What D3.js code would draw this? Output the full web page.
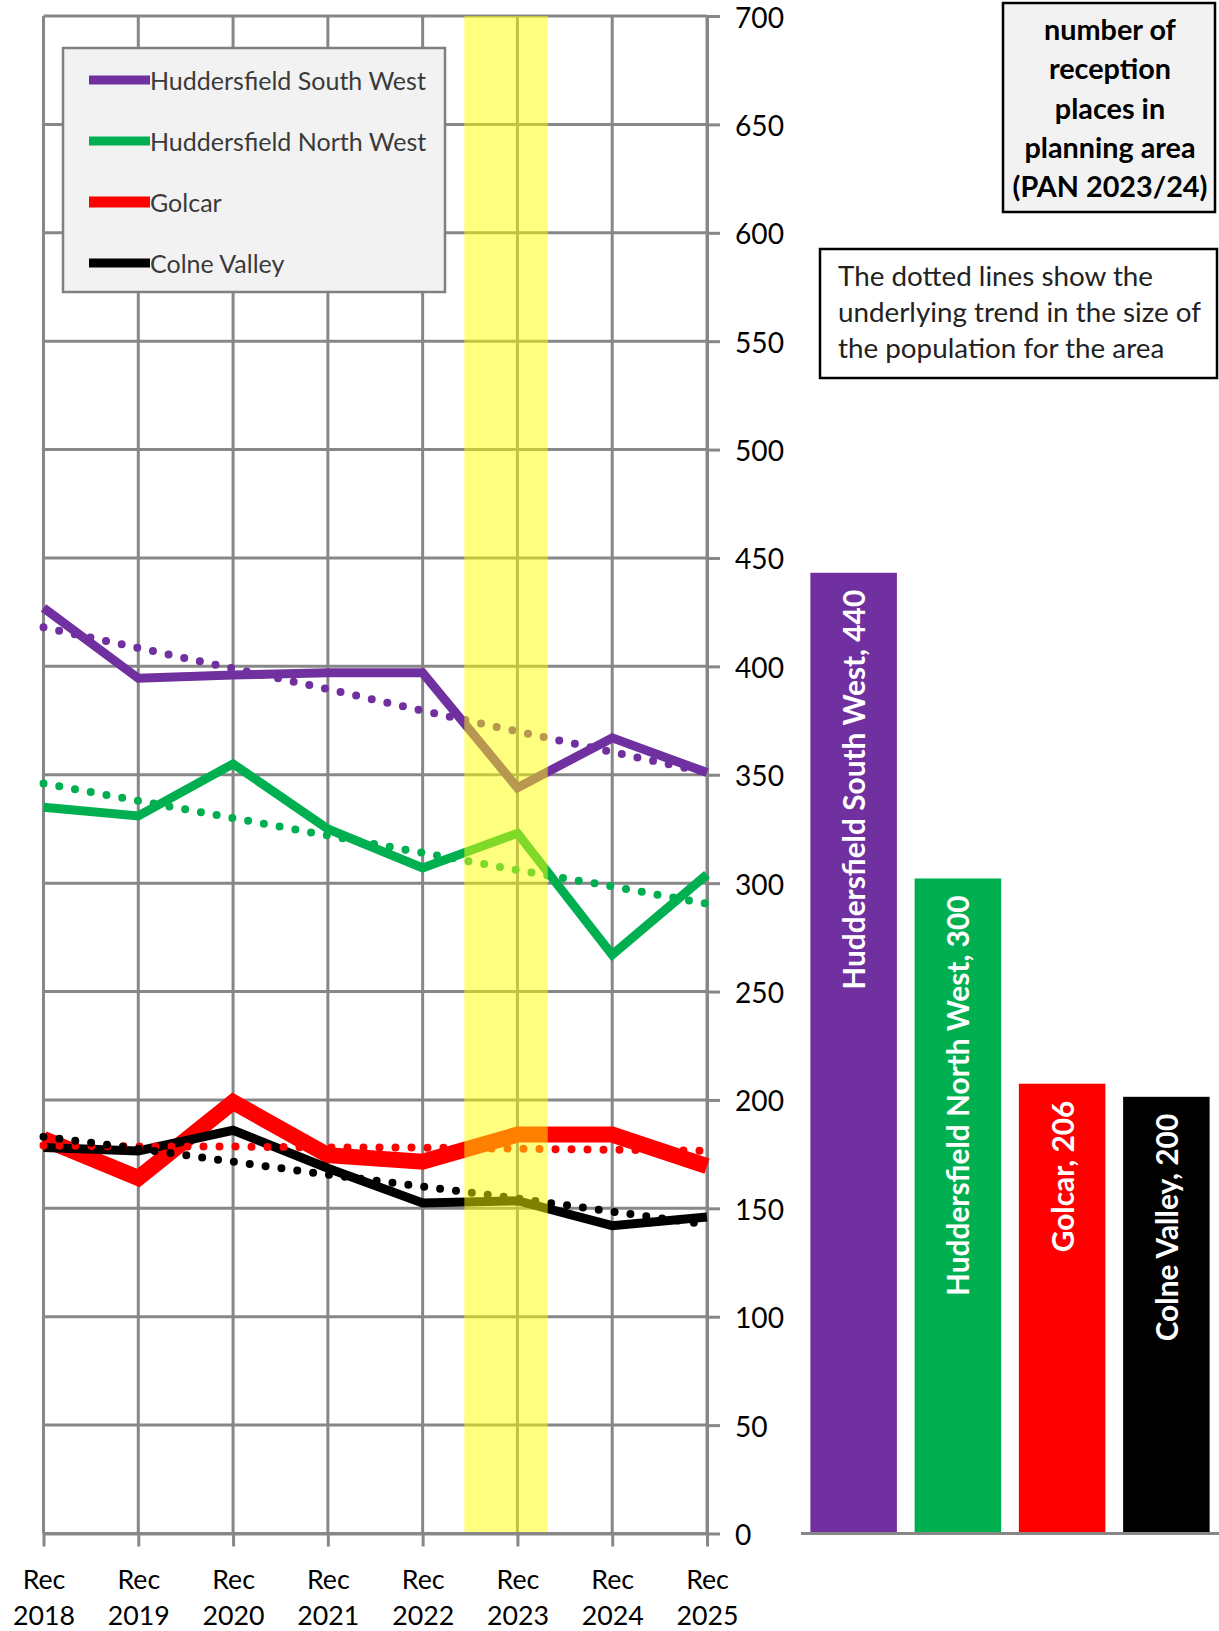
<!DOCTYPE html>
<html><head><meta charset="utf-8">
<script src="https://cdn.jsdelivr.net/npm/d3@7"></script>
<style>html,body{margin:0;padding:0;background:#fff;} svg{display:block;font-family:Lato,"Open Sans",sans-serif;}</style>
</head><body>
<svg id="chart" width="1219" height="1631"></svg>
<script>
// ---------- data ----------
const categories = ["Rec 2018","Rec 2019","Rec 2020","Rec 2021","Rec 2022","Rec 2023","Rec 2024","Rec 2025"];
const areas = ["Huddersfield South West","Huddersfield North West","Golcar","Colne Valley"];
const areaColors = ["#7030A0","#00B050","#FF0000","#000000"];
const hswValues    = [427, 394.5, 396, 397, 397, 344, 367, 351];
const hnwValues    = [335, 331, 355, 325, 307, 323, 267, 304];
const golcarValues = [182, 164, 199, 174.5, 171.5, 184, 184, 169.5];
const colneValues  = [178, 176.5, 186, 168.5, 152.5, 153.5, 142, 146];
const hswTrend     = [418, 408.5, 399, 389.5, 379.5, 370, 360.5, 351];
const hnwTrend     = [346, 338, 330, 322, 314, 306, 298.5, 290.5];
const golcarTrend  = [179, 178.5, 178.5, 178, 178, 177.5, 177, 176.5];
const colneTrend   = [183, 177.5, 171.5, 165.5, 160, 154.5, 148.5, 142.5];
const panPlaces    = [440, 300, 206, 200];
const yTickValues  = [0,50,100,150,200,250,300,350,400,450,500,550,600,650,700];
const panBoxLines  = ["number of","reception","places in","planning area","(PAN 2023/24)"];
const noteLines    = ["The dotted lines show the","underlying trend in the size of","the population for the area"];
const highlightFrom = 4.44, highlightTo = 5.32; // category-index units of the yellow band

// ---------- layout ----------
const svg = d3.select("#chart");
const L = 43.5, R = 707, T = 16, B = 1533.5;
const grid = "#878787";

function fitSize(sample, width, weight){
  const t = svg.append("text").attr("font-size",100).attr("font-weight",weight).text(sample);
  const w = t.node().getComputedTextLength(); t.remove();
  return 100*width/w;
}
const legendFS = fitSize("Huddersfield South West", 276, "normal");
const yTickFS  = fitSize("700", 49, "normal");
const xTickFS  = fitSize("2018", 62, "normal");
const panFS    = fitSize("(PAN 2023/24)", 195, "bold");
const noteFS   = fitSize("underlying trend in the size of", 363, "normal");
const barFS    = fitSize("Huddersfield South West, 440", 400, "bold");

const x  = d3.scalePoint().domain(categories).range([L, R]);
const xi = d3.scaleLinear().domain([0, categories.length-1]).range([L, R]);
const y  = d3.scaleLinear().domain([0, 700]).range([B, T]);

// gridlines
const g = svg.append("g");
g.selectAll(".hg").data(yTickValues).join("line")
  .attr("x1", L).attr("x2", R).attr("y1", d=>y(d)).attr("y2", d=>y(d))
  .attr("stroke", grid).attr("stroke-width", 3);
g.selectAll(".vg").data(categories).join("line")
  .attr("x1", d=>x(d)).attr("x2", d=>x(d)).attr("y1", T).attr("y2", B)
  .attr("stroke", grid).attr("stroke-width", 3);

// axes
const yAxis = svg.append("g").attr("transform", `translate(${R},0)`)
  .call(d3.axisRight(y).tickValues(yTickValues).tickSize(13).tickSizeOuter(0).tickPadding(15));
const xAxis = svg.append("g").attr("transform", `translate(0,${B})`)
  .call(d3.axisBottom(x).tickSize(13).tickSizeOuter(0));
[yAxis, xAxis].forEach(a=>{
  a.select(".domain").attr("stroke", grid).attr("stroke-width", 3);
  a.selectAll(".tick line").attr("stroke", grid).attr("stroke-width", 3);
});
yAxis.selectAll(".tick text").attr("font-family","Lato").attr("font-size", yTickFS)
  .attr("fill","#000").attr("dy", null).attr("dominant-baseline","central");
xAxis.selectAll(".tick text").remove();
xAxis.selectAll(".tick").each(function(d){
  const parts = d.split(" ");
  const t = d3.select(this);
  t.append("text").attr("y", 45.5).attr("dominant-baseline","central").attr("text-anchor","middle")
    .attr("font-family","Lato").attr("font-size", xTickFS).attr("fill","#000").text(parts[0]);
  t.append("text").attr("y", 81.5).attr("dominant-baseline","central").attr("text-anchor","middle")
    .attr("font-family","Lato").attr("font-size", xTickFS).attr("fill","#000").text(parts[1]);
});

// series
const seriesValues = [hswValues, hnwValues, golcarValues, colneValues];
const trendValues  = [hswTrend, hnwTrend, golcarTrend, colneTrend];
const seriesWidth  = [9, 9, 16, 9];
const line = d3.line().x((d,i)=>x(categories[i])).y(d=>y(d));
const lines = svg.append("g");
seriesValues.forEach((vals, k)=>{
  lines.append("path").attr("d", line(vals)).attr("fill","none")
    .attr("stroke", areaColors[k]).attr("stroke-width", seriesWidth[k])
    .attr("stroke-linejoin","miter").attr("stroke-linecap","butt");
});
trendValues.forEach((vals, k)=>{
  lines.append("path").attr("d", line(vals)).attr("fill","none")
    .attr("stroke", areaColors[k]).attr("stroke-width", 8)
    .attr("stroke-dasharray","0 16").attr("stroke-linecap","round");
});

// yellow highlight band
svg.append("rect").attr("x", xi(highlightFrom)).attr("width", xi(highlightTo)-xi(highlightFrom))
  .attr("y", T).attr("height", B - 1.5 - T).attr("fill","#FFFF00").attr("opacity",0.5);

// legend
const lg = svg.append("g");
lg.append("rect").attr("x", 63).attr("y", 48).attr("width", 382).attr("height", 244)
  .attr("fill","#F2F2F2").attr("stroke","#808080").attr("stroke-width",2.5);
const legendY = d3.scalePoint().domain(areas).range([80, 263]);
const legendW = [9, 9, 11, 9];
areas.forEach((a,k)=>{
  lg.append("line").attr("x1", 89).attr("x2", 150).attr("y1", legendY(a)).attr("y2", legendY(a))
    .attr("stroke", areaColors[k]).attr("stroke-width", legendW[k]);
  lg.append("text").attr("x", 150).attr("y", legendY(a)).attr("dominant-baseline","central")
    .attr("font-size", legendFS).attr("fill","#3a3a3a").text(a);
});

// PAN label box
svg.append("rect").attr("x", 1003).attr("y", 3).attr("width", 212).attr("height", 209)
  .attr("fill","#F2F2F2").attr("stroke","#000").attr("stroke-width",2.5);
const panY = d3.scalePoint().domain(d3.range(panBoxLines.length)).range([29, 186]);
panBoxLines.forEach((s,i)=>{
  svg.append("text").attr("x", 1110).attr("y", panY(i)).attr("text-anchor","middle")
    .attr("dominant-baseline","central").attr("font-weight","bold").attr("font-size", panFS)
    .attr("fill","#000").text(s);
});

// note box
svg.append("rect").attr("x", 820).attr("y", 249).attr("width", 397).attr("height", 129)
  .attr("fill","#fff").attr("stroke","#000").attr("stroke-width",2.5);
const noteY = d3.scalePoint().domain(d3.range(noteLines.length)).range([275.5, 347.5]);
noteLines.forEach((s,i)=>{
  svg.append("text").attr("x", 838).attr("y", noteY(i)).attr("dominant-baseline","central")
    .attr("font-size", noteFS).attr("fill","#222").text(s);
});

// bar chart of PAN places
const xb = d3.scaleBand().domain(areas).range([801, 1219]).paddingInner(0.17).paddingOuter(0.09);
const yb = d3.scaleLinear().domain([0, 695]).range([B, T]);
const bars = svg.append("g");
areas.forEach((a,k)=>{
  bars.append("rect").attr("x", xb(a)).attr("width", xb.bandwidth())
    .attr("y", yb(panPlaces[k])).attr("height", B - yb(panPlaces[k])).attr("fill", areaColors[k]);
  const cx = xb(a) + xb.bandwidth()/2, cy = yb(panPlaces[k]) + 17;
  bars.append("text").attr("transform", `translate(${cx},${cy}) rotate(-90)`)
    .attr("text-anchor","end").attr("dominant-baseline","central")
    .attr("font-weight","bold").attr("font-size", barFS).attr("fill","#fff")
    .text(`${a}, ${panPlaces[k]}`);
});
bars.append("line").attr("x1", 801).attr("x2", 1219).attr("y1", B).attr("y2", B)
  .attr("stroke", grid).attr("stroke-width", 3);
</script>
</body></html>
